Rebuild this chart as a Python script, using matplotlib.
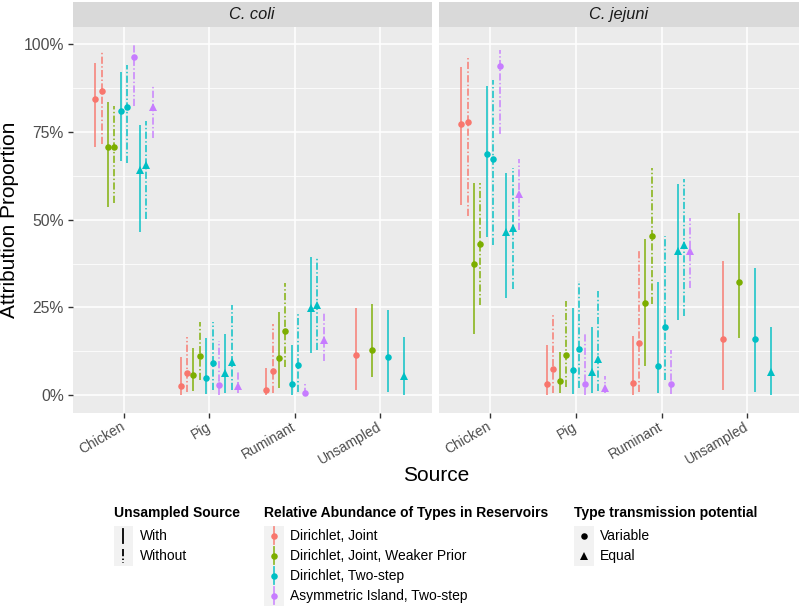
import numpy as np
import matplotlib
matplotlib.use('Agg')
import matplotlib.pyplot as plt
from matplotlib.patches import Rectangle
from matplotlib.lines import Line2D
from matplotlib.ticker import FuncFormatter, FixedLocator

plt.rcParams['font.family'] = ['Liberation Sans', 'DejaVu Sans']

sources = ['Chicken', 'Pig', 'Ruminant', 'Unsampled']
species = ['C. coli', 'C. jejuni']

model_labels = ['Dirichlet, Joint', 'Dirichlet, Joint, Weaker Prior',
                'Dirichlet, Two-step', 'Asymmetric Island, Two-step']
model_colors = ['#F8766D', '#7CAE00', '#00BFC4', '#C77CFF']
unsampled_labels = ['With', 'Without']
transmission_labels = ['Variable', 'Equal']

# the ten model runs, in the order they are dodged
run_model = [0, 0, 1, 1, 2, 2, 3, 2, 2, 3]
run_unsampled = ['With', 'Without', 'With', 'Without', 'With', 'Without',
                 'Without', 'With', 'Without', 'Without']
run_transmission = ['Variable'] * 7 + ['Equal'] * 3

nan = np.nan
# percentages, rows = sources, columns = runs
coli_med = [[84.5, 86.7, 70.8, 70.6, 81.0, 82.1, 96.5, 64.1, 65.5, 82.0],
            [2.6, 6.4, 5.8, 11.2, 4.8, 9.3, 2.9, 6.2, 9.5, 2.6],
            [1.4, 6.9, 10.5, 18.2, 3.1, 8.5, 0.7, 24.8, 25.7, 15.8],
            [11.4, nan, 12.8, nan, 11.0, nan, nan, 5.5, nan, nan]]
coli_lo = [[70.6, 71.7, 53.5, 54.9, 66.8, 66.3, 82.4, 46.6, 50.2, 73.2],
           [0.0, 0.8, 1.1, 4.3, 0.2, 1.6, 0.0, 0.7, 1.4, 0.5],
           [0.0, 0.5, 2.0, 7.9, 0.0, 0.9, 0.0, 12.1, 12.8, 9.8],
           [1.4, nan, 5.1, nan, 0.8, nan, nan, 0.0, nan, nan]]
coli_hi = [[94.6, 97.7, 83.5, 82.5, 92.2, 94.1, 100.0, 77.0, 78.2, 88.3],
           [10.8, 16.6, 13.5, 20.9, 16.2, 20.9, 15.4, 17.3, 25.6, 7.1],
           [7.6, 20.2, 23.7, 32.0, 14.3, 23.6, 3.5, 39.5, 39.3, 23.3],
           [24.9, nan, 26.0, nan, 24.4, nan, nan, 16.5, nan, nan]]

jejuni_med = [[77.3, 77.8, 37.3, 43.2, 68.7, 67.4, 93.9, 46.4, 47.7, 57.3],
              [3.1, 7.4, 4.0, 11.4, 7.1, 13.1, 3.1, 6.5, 10.2, 1.9],
              [3.6, 14.8, 26.4, 45.4, 8.3, 19.5, 3.1, 41.1, 42.8, 41.1],
              [15.9, nan, 32.3, nan, 15.9, nan, nan, 6.6, nan, nan]]
jejuni_lo = [[54.2, 51.1, 17.3, 25.8, 45.1, 42.7, 74.5, 27.7, 30.2, 47.2],
             [0.0, 0.7, 0.5, 2.4, 0.3, 1.9, 0.0, 0.7, 1.2, 0.5],
             [0.0, 0.9, 8.2, 25.9, 0.5, 4.3, 0.2, 21.4, 22.5, 30.4],
             [1.6, nan, 16.4, nan, 1.0, nan, nan, 0.0, nan, nan]]
jejuni_hi = [[93.6, 96.4, 60.4, 60.6, 88.0, 89.7, 98.5, 63.2, 64.7, 67.2],
             [14.3, 23.5, 12.3, 26.7, 24.7, 32.5, 17.9, 19.4, 29.6, 5.5],
             [16.8, 41.5, 44.6, 64.6, 32.2, 45.4, 13.0, 60.1, 61.5, 50.5],
             [38.2, nan, 52.0, nan, 36.3, nan, nan, 19.5, nan, nan]]

W, H = 800, 607
dashes = (0, (4.0, 1.3, 0.8, 1.3))
line_style = {'With': '-', 'Without': dashes}
marker_style = {'Variable': ('o', 4.7), 'Equal': ('^', 5.8)}
line_alpha = 0.8
line_w = 1.3


def fbox(x0, y0, x1, y1):
    # pixel box (y from top) -> figure fraction rect
    return [x0 / W, 1 - y1 / H, (x1 - x0) / W, (y1 - y0) / H]


def draw_panel(ax, med, lo, hi):
    med = np.array(med) / 100
    lo = np.array(lo) / 100
    hi = np.array(hi) / 100
    for s in range(len(sources)):
        present = [r for r in range(len(run_model)) if not np.isnan(med[s, r])]
        n = len(present)
        for k, r in enumerate(present):
            x = s + 1 + (k - (n - 1) / 2) * 0.75 / n
            col = model_colors[run_model[r]]
            ax.plot([x, x], [lo[s, r], hi[s, r]], color=col, alpha=line_alpha, lw=line_w,
                    linestyle=line_style[run_unsampled[r]], solid_capstyle='butt',
                    zorder=3 + r * 0.01)
            m, ms = marker_style[run_transmission[r]]
            ax.plot([x], [med[s, r]], marker=m, markersize=ms, color=col,
                    markeredgewidth=0, linestyle='none', zorder=3.005 + r * 0.01)

    ax.set_facecolor('#EBEBEB')
    ax.set_xlim(0.4, 4.6)
    ax.set_ylim(-0.05, 1.05)
    ax.yaxis.set_major_locator(FixedLocator([0, 0.25, 0.5, 0.75, 1.0]))
    ax.yaxis.set_minor_locator(FixedLocator([0.125, 0.375, 0.625, 0.875]))
    ax.yaxis.set_major_formatter(FuncFormatter(lambda v, p: '%d%%' % round(v * 100)))
    ax.set_xticks([1, 2, 3, 4])
    ax.set_xticklabels(sources, rotation=30, ha='right', va='center',
                       rotation_mode='anchor')
    ax.grid(True, which='major', color='white', lw=1.1, zorder=0)
    ax.grid(True, which='minor', axis='y', color='white', lw=0.55, zorder=0)
    ax.set_axisbelow(True)
    for sp in ax.spines.values():
        sp.set_visible(False)
    ax.tick_params(axis='both', which='major', length=3.8, width=1.0,
                   color='#333333', labelcolor='#4D4D4D', labelsize=10)
    ax.tick_params(axis='x', pad=5.5)
    ax.tick_params(axis='y', pad=2.5, labelsize=11.3)
    ax.tick_params(which='minor', length=0)


fig = plt.figure(figsize=(8, 6.07), dpi=100)

ax1 = fig.add_axes(fbox(72.7, 26.7, 431.7, 412.7))
ax2 = fig.add_axes(fbox(438.7, 26.7, 798.7, 412.7))
draw_panel(ax1, coli_med, coli_lo, coli_hi)
draw_panel(ax2, jejuni_med, jejuni_lo, jejuni_hi)
ax2.tick_params(axis='y', left=False, labelleft=False)

# facet strips
for (x0, x1), name in zip([(72.7, 431.7), (438.7, 798.7)], species):
    st = fig.add_axes(fbox(x0, 1.7, x1, 26.7))
    st.set_facecolor('#D9D9D9')
    st.set_xticks([])
    st.set_yticks([])
    for sp in st.spines.values():
        sp.set_visible(False)
    st.text(0.5, 0.5, name, ha='center', va='center', fontsize=11.8,
            style='italic', color='#1A1A1A', transform=st.transAxes)

fig.text(435.7 / W, 1 - 475.5 / H, 'Source', ha='center', va='center', fontsize=15)
fig.text(9.5 / W, 1 - 219.7 / H, 'Attribution Proportion', ha='center', va='center',
         rotation=90, fontsize=15)

# legends, drawn in pixel space
lg = fig.add_axes([0, 0, 1, 1], zorder=-1)
lg.set_xlim(0, W)
lg.set_ylim(H, 0)
lg.axis('off')

key_bg = '#F2F2F2'
title_y = 513.3
item_y0 = 535.7
step = 20.0


def legend_block(x, title, labels, draw_key):
    lg.text(x, title_y, title, fontsize=10, fontweight='bold', ha='left', va='center')
    n = len(labels)
    lg.add_patch(Rectangle((x, item_y0 - step / 2), 19.5, step * n,
                           facecolor=key_bg, edgecolor='none'))
    for i, lab in enumerate(labels):
        y = item_y0 + i * step
        draw_key(x + 9.75, y, i)
        lg.text(x + 26, y, lab, fontsize=10, ha='left', va='center')


def unsampled_key(cx, cy, i):
    lg.add_line(Line2D([cx, cx], [cy - 7, cy + 7], color='black', lw=line_w,
                       linestyle=line_style[unsampled_labels[i]]))


def model_key(cx, cy, i):
    col = model_colors[i]
    lg.add_line(Line2D([cx, cx], [cy - 8.5, cy + 8.5], color=col, lw=line_w,
                       alpha=line_alpha))
    lg.add_line(Line2D([cx], [cy], marker='o', markersize=4.7, color=col,
                       markeredgewidth=0, linestyle='none'))


def transmission_key(cx, cy, i):
    m, ms = marker_style[transmission_labels[i]]
    lg.add_line(Line2D([cx], [cy], marker=m, markersize=ms, color='black',
                       markeredgewidth=0, linestyle='none'))


legend_block(113.5, 'Unsampled Source', unsampled_labels, unsampled_key)
legend_block(264.3, 'Relative Abundance of Types in Reservoirs', model_labels, model_key)
legend_block(574.3, 'Type transmission potential', transmission_labels, transmission_key)

fig.savefig('out.png', dpi=100)
